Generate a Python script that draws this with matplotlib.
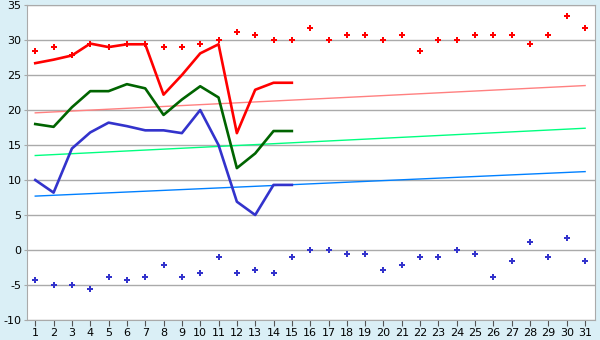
import matplotlib
matplotlib.use("Agg")
import matplotlib.pyplot as plt

plt.rcParams['axes.unicode_minus'] = False
plt.rcParams['font.family'] = ['DejaVu Sans']

days = list(range(1, 32))
days_line = list(range(1, 16))

# daily extremes (points)
max_points = [28.4, 29.0, 27.8, 29.4, 29.0, 29.4, 29.4, 29.0, 29.0, 29.4,
              30.0, 31.1, 30.7, 30.0, 30.0, 31.7, 30.0, 30.7, 30.7, 30.0,
              30.7, 28.4, 30.0, 30.0, 30.7, 30.7, 30.7, 29.4, 30.7, 33.4, 31.7]
min_points = [-4.3, -5.0, -5.0, -5.6, -3.9, -4.3, -3.9, -2.2, -3.9, -3.3,
              -1.0, -3.3, -2.8, -3.3, -1.0, 0.0, 0.0, -0.6, -0.6, -2.8,
              -2.2, -1.0, -1.0, 0.0, -0.6, -3.9, -1.6, 1.1, -1.0, 1.7, -1.6]

# current month lines
max_line = [26.7, 27.2, 27.8, 29.5, 29.0, 29.4, 29.4, 22.2, 25.0, 28.1,
            29.4, 16.7, 22.9, 23.9, 23.9]
avg_line = [18.0, 17.6, 20.4, 22.7, 22.7, 23.7, 23.1, 19.3, 21.5, 23.4,
            21.8, 11.7, 13.8, 17.0, 17.0]
min_line = [10.0, 8.2, 14.5, 16.8, 18.2, 17.7, 17.1, 17.1, 16.7, 20.0,
            15.0, 6.9, 5.0, 9.3, 9.3]

# trend lines (first day, last day)
trend_days = [1, 31]
trend_max = [19.6, 23.5]
trend_avg = [13.5, 17.4]
trend_min = [7.7, 11.2]

fig = plt.figure(figsize=(6, 3.4), dpi=100, facecolor='#daeff6')
ax = fig.add_axes([0.045, 0.059, 0.947, 0.926])
ax.set_facecolor('white')

ax.plot(trend_days, trend_max, color='#ff8080', lw=1)
ax.plot(trend_days, trend_avg, color='#00ff80', lw=1)
ax.plot(trend_days, trend_min, color='#0080ff', lw=1)

ax.plot(days_line, max_line, color='#ff0000', lw=1.9)
ax.plot(days_line, avg_line, color='#006400', lw=1.9)
ax.plot(days_line, min_line, color='#3333cc', lw=1.9)

ax.plot(days, max_points, ls='none', marker='P', ms=4.8, color='#ff0000', mew=0)
ax.plot(days, min_points, ls='none', marker='P', ms=4.8, color='#3333cc', mew=0)

ax.set_xlim(0.55, 31.55)
ax.set_ylim(-10, 35)
ax.set_xticks(days)
ax.set_yticks(range(-10, 36, 5))
ax.yaxis.grid(True, color='#aaaaaa', lw=1)
ax.set_axisbelow(True)
for s in ax.spines.values():
    s.set_color('#aaaaaa')
ax.tick_params(axis='x', length=4, color='#555555', labelsize=8, pad=2)
ax.tick_params(axis='y', length=2, color='#aaaaaa', labelsize=8, pad=2)

fig.savefig('out.png', dpi=100, facecolor=fig.get_facecolor())
